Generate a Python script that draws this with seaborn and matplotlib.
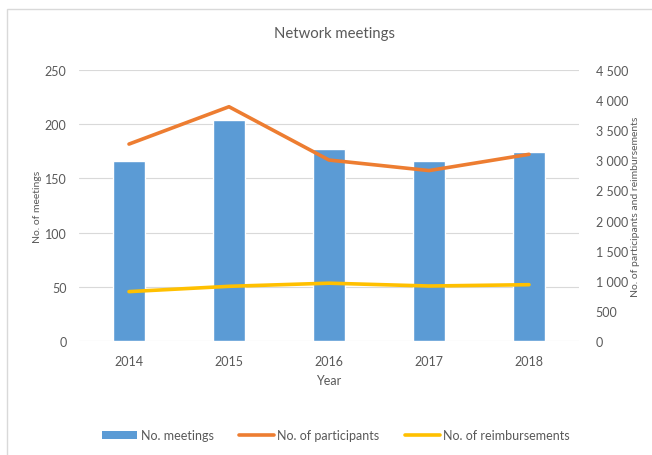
import matplotlib
matplotlib.use("Agg")
import matplotlib.pyplot as plt
import seaborn as sns
import numpy as np
import pandas as pd
from matplotlib.lines import Line2D
from matplotlib.patches import Patch, Rectangle
from matplotlib.ticker import FuncFormatter

years = ["2014", "2015", "2016", "2017", "2018"]
meetings = [166, 204, 177, 166, 174]
participants = [3270, 3890, 3005, 2830, 3100]
reimbursements = [820, 908, 960, 913, 935]
left_ticks = [0, 50, 100, 150, 200, 250]
right_ticks = [0, 500, 1000, 1500, 2000, 2500, 3000, 3500, 4000, 4500]

BLUE = "#5B9BD5"
ORANGE = "#ED7D31"
YELLOW = "#FFC000"
TXT = "#595959"
GRID = "#D9D9D9"

sns.set_theme(style="white")
plt.rcParams["font.family"] = ["Lato", "DejaVu Sans"]

df = pd.DataFrame({"Year": years, "Meetings": meetings,
                   "Participants": participants, "Reimbursements": reimbursements})

fig = plt.figure(figsize=(6.52, 4.56), dpi=100)
ax = fig.add_axes([79 / 652, 1 - 342 / 456, 500 / 652, 271 / 456])

sns.barplot(data=df, x="Year", y="Meetings", color=BLUE, width=0.32,
            saturation=1, ax=ax, zorder=2)
ax.set_ylim(0, 250)
ax.set_yticks(left_ticks)
ax.set_xlim(-0.5, 4.5)
ax.grid(axis="y", color=GRID, linewidth=0.8, zorder=0)
ax.set_axisbelow(True)
for s in ax.spines.values():
    s.set_visible(False)
ax.tick_params(axis="both", length=0, labelsize=9, labelcolor=TXT, pad=9)
ax.tick_params(axis="x", pad=10)
ax.set_ylabel("No. of meetings", fontsize=7.5, color=TXT, labelpad=2)
ax.set_xlabel("Year", fontsize=9, color=TXT, labelpad=5)

ax2 = ax.twinx()
sns.pointplot(data=df, x="Year", y="Participants", color=ORANGE, marker="",
              linewidth=2.6, ax=ax2)
sns.pointplot(data=df, x="Year", y="Reimbursements", color=YELLOW, marker="",
              linewidth=2.6, ax=ax2)
ax2.set_xlim(-0.5, 4.5)
ax2.set_ylim(0, 4500)
ax2.set_yticks(right_ticks)
ax2.yaxis.set_major_formatter(FuncFormatter(lambda v, p: f"{int(v):,}".replace(",", " ")))
for s in ax2.spines.values():
    s.set_visible(False)
ax2.tick_params(axis="both", length=0, labelsize=9, labelcolor=TXT, pad=12)
ax2.set_ylabel("No. of participants and reimbursements", fontsize=7.5, color=TXT,
               labelpad=2)
ax2.grid(False)

fig.text(335 / 652, 1 - 34 / 456, "Network meetings", ha="center", va="center",
         fontsize=10.7, color=TXT)

handles = [Patch(facecolor=BLUE, edgecolor="none"),
           Line2D([0], [0], color=ORANGE, linewidth=2.6),
           Line2D([0], [0], color=YELLOW, linewidth=2.6)]
labels = ["No. meetings", "No. of participants", "No. of reimbursements"]
fig.legend(handles, labels, loc="center", bbox_to_anchor=(336 / 652, 1 - 436 / 456),
           ncol=3, frameon=False, fontsize=9, labelcolor=TXT, handlelength=2.8,
           handleheight=0.6, handletextpad=0.3, columnspacing=2.0)

fig.add_artist(Rectangle((7 / 652, 1 - 460 / 456), 700 / 652, 450 / 456,
                         transform=fig.transFigure, fill=False,
                         edgecolor="#D9D9D9", linewidth=1))

fig.savefig("out.png", dpi=100)
